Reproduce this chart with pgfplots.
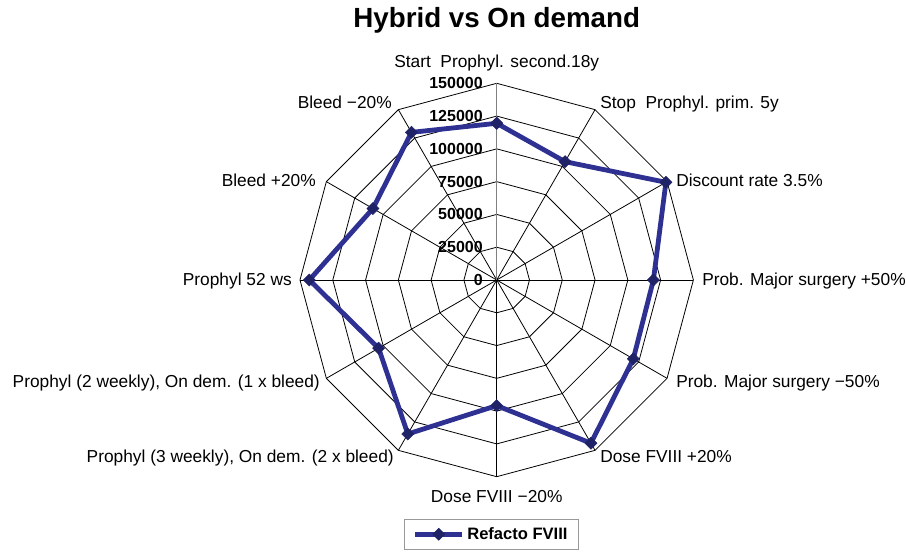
\documentclass[border=0pt]{standalone}
\usepackage{fontspec}
\setmainfont{Liberation Sans}
\usepackage{pgfplots}
\pgfplotsset{compat=1.18}
\definecolor{lineblue}{RGB}{46,49,146}
\definecolor{markblue}{RGB}{31,34,102}
\begin{document}
\begin{tikzpicture}
\begin{axis}[
  scale only axis, width=679.5pt, height=414pt,
  xmin=-378783, xmax=312132, ymin=-207427, ymax=213528,
  hide axis, clip=false,
  legend style={at={(rel axis cs:0.5425,0.004)}, anchor=south, draw=gray!80, line width=0.8pt,
    font=\fontsize{12.4}{14}\selectfont\bfseries, inner xsep=6pt, inner ysep=4pt},
  legend image code/.code={\draw[mark repeat=2,mark phase=2] plot coordinates {(0cm,0cm)(0.62cm,0cm)(1.24cm,0cm)};},
]
% rings
\pgfplotsinvokeforeach{25000,50000,75000,100000,125000,150000}{
 \addplot[black, line width=0.6pt, data cs=polar, forget plot] coordinates {(90,#1)(60,#1)(30,#1)(0,#1)(-30,#1)(-60,#1)(-90,#1)(-120,#1)(-150,#1)(180,#1)(150,#1)(120,#1)(90,#1)};
}
% spokes
\pgfplotsinvokeforeach{60,30,0,-30,-60,-90,-120,-150,180,150,120}{
 \addplot[black, line width=0.6pt, data cs=polar, forget plot] coordinates {(#1,0)(#1,150000)};
}
\addplot[gray, line width=1.1pt, data cs=polar, forget plot] coordinates {(90,0)(90,150000)};
% tick labels
\pgfplotsinvokeforeach{0,25000,50000,75000,100000,125000,150000}{
 \node[anchor=east, inner sep=0pt, font=\fontsize{12}{14}\selectfont\bfseries] at (axis cs:-10448,#1) {#1};
}
% data
\addplot[lineblue, line width=3.6pt, mark=square*, mark size=3.2pt,
  mark options={rotate=45, fill=markblue, draw=markblue, line width=0.4pt}, data cs=polar] coordinates {
(90,119500)(60,104200)(30,149000)(0,119500)(-30,120300)(-60,143700)(-90,95800)(-120,135600)(-150,104000)(180,142900)(150,109000)(120,130000)(90,119500)};
\addlegendentry{Refacto FVIII}
% title
\node[anchor=base, font=\fontsize{20.8}{24}\selectfont\bfseries] at (axis cs:0,192175) {Hybrid vs On demand};
% category labels
\begin{scope}[every node/.style={font=\fontsize{13}{15}\selectfont, inner sep=0pt}]
\node[anchor=base] at (axis cs:0,161671) {Start\ \ Prophyl. second.18y};
\node[anchor=base west] at (axis cs:78777,130405) {Stop\ \ Prophyl. prim. 5y};
\node[anchor=base west] at (axis cs:136734,70922) {Discount rate 3.5\%};
\node[anchor=base west] at (axis cs:156562,-4576) {Prob. Major surgery +50\%};
\node[anchor=base west] at (axis cs:136734,-82361) {Prob. Major surgery −50\%};
\node[anchor=base west] at (axis cs:78777,-139556) {Dose FVIII +20\%};
\node[anchor=base] at (axis cs:0,-170060) {Dose FVIII −20\%};
\node[anchor=base east] at (axis cs:-78320,-139556) {Prophyl (3 weekly), On dem. (2 x bleed)};
\node[anchor=base east] at (axis cs:-134751,-82361) {Prophyl (2 weekly), On dem. (1 x bleed)};
\node[anchor=base east] at (axis cs:-156103,-4576) {Prophyl 52 ws};
\node[anchor=base east] at (axis cs:-137801,70922) {Bleed +20\%};
\node[anchor=base east] at (axis cs:-79845,130405) {Bleed −20\%};
\end{scope}
\end{axis}
\pgfresetboundingbox
\path (current axis.south west) rectangle (current axis.north east);
\end{tikzpicture}
\end{document}
